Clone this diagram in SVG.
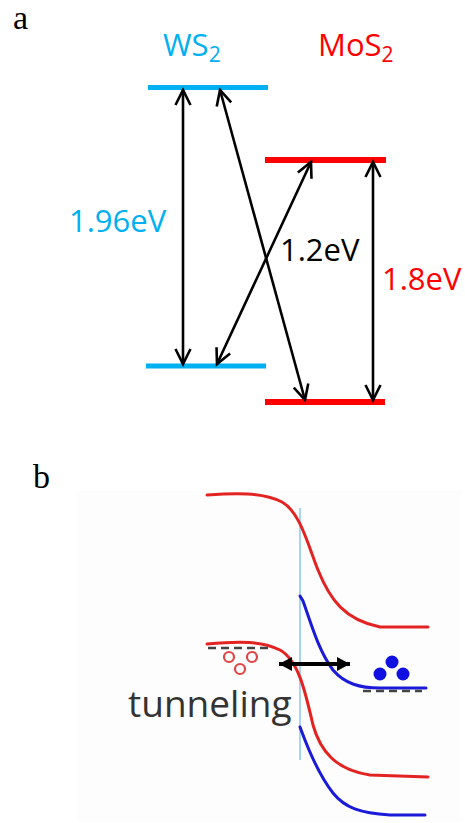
<svg xmlns="http://www.w3.org/2000/svg" width="465" height="823" viewBox="0 0 465 823">
<style>
.lbl{font-family:"Open Sans","Liberation Sans",sans-serif;font-size:31px}
.panel{font-family:"Liberation Serif",serif;font-size:34px;fill:#000}
.cyan{fill:#00b0f0}
.red{fill:#ff0000}
.conn{stroke:#000;stroke-width:2.6;fill:none;marker-start:url(#ch);marker-end:url(#ch)}
.band{fill:none;stroke-width:3;stroke-linecap:round}
.rb{stroke:#e32222}
.bb{stroke:#1a1ad8}
.dash{stroke:#444;stroke-width:2.5;stroke-dasharray:8 5}
</style>
<defs>
<marker id="ch" viewBox="-20 -10 24 20" refX="0" refY="0" markerWidth="24" markerHeight="20" markerUnits="userSpaceOnUse" orient="auto-start-reverse">
<path d="M-15,-7.5 L0,0 L-15,7.5" fill="none" stroke="#000" stroke-width="2.6"/>
</marker>
<marker id="fh" viewBox="-14 -8 16 16" refX="0" refY="0" markerWidth="16" markerHeight="16" markerUnits="userSpaceOnUse" orient="auto-start-reverse">
<path d="M-13,-7 L0,0 L-13,7 Z" fill="#000"/>
</marker>
</defs>
<rect width="465" height="823" fill="#fff"/>
<text class="panel" x="13" y="29">a</text>
<text class="panel" x="33" y="488">b</text>
<g id="ws2-label"><text class="lbl cyan" x="163" y="56">WS<tspan font-size="21" dy="6">2</tspan></text></g>
<g id="mos2-label"><text class="lbl red" x="318" y="56">MoS<tspan font-size="21" dy="6">2</tspan></text></g>
<g id="ws2-cb"><rect x="148" y="85" width="120" height="5" fill="#00b0f0"/></g>
<g id="ws2-vb"><rect x="146" y="363.5" width="120" height="5" fill="#00b0f0"/></g>
<g id="mos2-cb"><rect x="265" y="157" width="121" height="6" fill="#ff0000"/></g>
<g id="mos2-vb"><rect x="265" y="399" width="120" height="6" fill="#ff0000"/></g>
<g id="connectors">
<line class="conn" x1="183" y1="90" x2="183" y2="364"/>
<line class="conn" x1="220" y1="90" x2="305" y2="400"/>
<line class="conn" x1="311" y1="162" x2="217" y2="364"/>
<line class="conn" x1="373" y1="162" x2="373" y2="400"/>
</g>
<g id="lbl-196"><text class="lbl cyan" x="69" y="232">1.96eV</text></g>
<g id="lbl-12"><text class="lbl" x="280" y="261" fill="#000">1.2eV</text></g>
<g id="lbl-18"><text class="lbl red" x="382" y="290">1.8eV</text></g>
<g id="panel-b">
<rect x="77" y="491" width="384" height="331" fill="#fdfdfd"/>
<line x1="300" y1="508" x2="300" y2="760" stroke="#a9d3f2" stroke-width="2"/>
<path class="band rb" d="M207,495 C235,493 262,492 282,502 C300,512 308,545 318,570 C330,600 345,620 380,627 L428,627"/>
<path class="band bb" d="M300,596 L303,601 C310,620 318,650 333,670 C345,684 360,688 380,688 L426,688"/>
<path class="band rb" d="M207,644 C240,641 262,641 280,650 C298,660 305,690 313,725 C320,750 335,770 370,775 L428,777"/>
<path class="band bb" d="M300,727 C305,740 315,770 333,793 C345,808 360,813 390,815 L425,815"/>
<line class="dash" x1="208" y1="648" x2="270" y2="648"/>
<line class="dash" x1="363" y1="691" x2="422" y2="691"/>
<g fill="none" stroke="#e04545" stroke-width="2.2">
<circle cx="229" cy="657" r="5"/>
<circle cx="252" cy="657" r="5"/>
<circle cx="240" cy="669" r="5"/>
</g>
<g fill="#1010e0">
<circle cx="392" cy="662" r="6.5"/>
<circle cx="380" cy="674" r="6.5"/>
<circle cx="403" cy="674" r="6.5"/>
</g>
<line x1="279" y1="664" x2="350" y2="664" stroke="#000" stroke-width="4" marker-start="url(#fh)" marker-end="url(#fh)"/>
<text x="128" y="717" font-family="Open Sans, Liberation Sans, sans-serif" font-size="37" fill="#333">tunneling</text>
</g>
</svg>
